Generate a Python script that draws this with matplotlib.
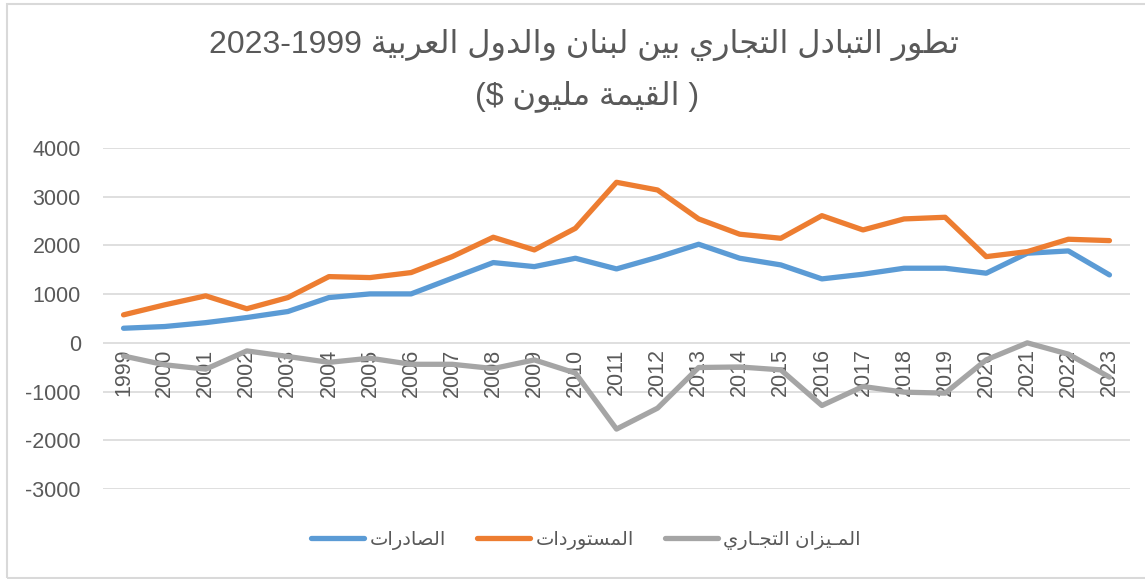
import re
import matplotlib
matplotlib.use("Agg")
import matplotlib.pyplot as plt
from matplotlib.patches import Rectangle

plt.rcParams["font.family"] = ["Liberation Sans", "DejaVu Sans"]

################################################################################
# Data (million $)                                                             #
################################################################################
years = list(range(1999, 2024))
exports = [300, 335, 415, 520, 643, 930, 1005, 1005, 1327, 1648, 1565, 1737, 1518,
           1757, 2024, 1737, 1600, 1313, 1409, 1532, 1532, 1430, 1840, 1887, 1395]
imports = [575, 780, 965, 700, 930, 1360, 1340, 1443, 1770, 2168, 1908, 2352, 3296,
           3138, 2544, 2230, 2147, 2611, 2318, 2544, 2578, 1770, 1873, 2127, 2099]
balance = [-270, -450, -540, -165, -280, -400, -315, -440, -440, -527, -350, -620, -1770,
           -1340, -506, -495, -554, -1286, -896, -1012, -1032, -349, 0, -232, -704]
y_ticks = [-3000, -2000, -1000, 0, 1000, 2000, 3000, 4000]

title_ar = "تطور التبادل التجاري بين لبنان والدول العربية 2023-1999"
subtitle_ar = "( القيمة مليون $)"
series_names = ["الصادرات", "المستوردات", "المـيزان التجـاري"]
colors = ["#5B9BD5", "#ED7D31", "#A5A5A5"]

################################################################################
# Minimal Arabic shaping (matplotlib has no text shaping / bidi)               #
################################################################################
# letter: (isolated, final, initial, medial)
FORMS = {
    "ا": ("\uFE8D", "\uFE8E", None, None),
    "ب": ("\uFE8F", "\uFE90", "\uFE91", "\uFE92"),
    "ة": ("\uFE93", "\uFE94", None, None),
    "ت": ("\uFE95", "\uFE96", "\uFE97", "\uFE98"),
    "ج": ("\uFE9D", "\uFE9E", "\uFE9F", "\uFEA0"),
    "د": ("\uFEA9", "\uFEAA", None, None),
    "ر": ("\uFEAD", "\uFEAE", None, None),
    "ز": ("\uFEAF", "\uFEB0", None, None),
    "س": ("\uFEB1", "\uFEB2", "\uFEB3", "\uFEB4"),
    "ص": ("\uFEB9", "\uFEBA", "\uFEBB", "\uFEBC"),
    "ط": ("\uFEC1", "\uFEC2", "\uFEC3", "\uFEC4"),
    "ع": ("\uFEC9", "\uFECA", "\uFECB", "\uFECC"),
    "ق": ("\uFED5", "\uFED6", "\uFED7", "\uFED8"),
    "ل": ("\uFEDD", "\uFEDE", "\uFEDF", "\uFEE0"),
    "م": ("\uFEE1", "\uFEE2", "\uFEE3", "\uFEE4"),
    "ن": ("\uFEE5", "\uFEE6", "\uFEE7", "\uFEE8"),
    "و": ("\uFEED", "\uFEEE", None, None),
    "ي": ("\uFEF1", "\uFEF2", "\uFEF3", "\uFEF4"),
}
TATWEEL = "ـ"


def joins(c):
    return c == TATWEEL or c in FORMS


def dual(c):
    return c == TATWEEL or (c in FORMS and FORMS[c][2] is not None)


def shape(s):
    out = []
    for i, c in enumerate(s):
        if c not in FORMS:
            out.append(c)
            continue
        prev = s[i - 1] if i > 0 else ""
        nxt = s[i + 1] if i < len(s) - 1 else ""
        jp = bool(prev) and dual(prev)
        jn = bool(nxt) and dual(c) and joins(nxt)
        f = FORMS[c]
        if jp and jn:
            out.append(f[3])
        elif jp:
            out.append(f[1])
        elif jn:
            out.append(f[2])
        else:
            out.append(f[0])
    return "".join(out)


def rtl(s):
    rev = shape(s)[::-1]
    rev = rev.translate(str.maketrans("()", ")("))
    return re.sub(r"[0-9\-]+", lambda m: m.group()[::-1], rev)


################################################################################
# Plot                                                                         #
################################################################################
fig = plt.figure(figsize=(11.45, 5.79), dpi=100)
ax = fig.add_axes([103 / 1145, 1 - 489 / 579, (1130 - 103) / 1145, (489 - 148) / 579])

x = list(range(len(years)))
for vals, name, col in zip([exports, imports, balance], series_names, colors):
    ax.plot(x, vals, color=col, lw=3.8, solid_capstyle="round", zorder=3, label=rtl(name))

ax.set_xlim(-0.5, len(years) - 0.5)
ax.set_ylim(-3000, 4000)
ax.set_yticks(y_ticks)
ax.set_yticklabels([str(v) for v in y_ticks])
ax.set_xticks([])
ax.tick_params(axis="y", length=0, pad=16, labelsize=15.5, labelcolor="#595959")
ax.grid(axis="y", color="#D9D9D9", lw=1.2)
ax.set_axisbelow(True)
for s in ax.spines.values():
    s.set_visible(False)

for i, yr in enumerate(years):
    ax.annotate(str(yr), (i, 0), xytext=(0, -4), textcoords="offset points",
                rotation=90, ha="center", va="top", fontsize=15.5, color="#595959", zorder=1.5)

fig.text(0.51, 1 - 45 / 579, rtl(title_ar), ha="center", va="center", fontsize=23, color="#595959")
fig.text(0.513, 1 - 96 / 579, rtl(subtitle_ar), ha="center", va="center", fontsize=23, color="#595959")

leg = fig.legend(loc="center", bbox_to_anchor=(0.512, 1 - 540 / 579), ncol=3, frameon=False,
                 fontsize=14, handlelength=2.7, columnspacing=1.6, handletextpad=0.3)
for t in leg.get_texts():
    t.set_color("#595959")

fig.patches.append(Rectangle((7 / 1145, 1 / 579), 1.1, 1 - 5 / 579, transform=fig.transFigure,
                             fill=False, edgecolor="#D9D9D9", lw=1.5))

fig.savefig("out.png", dpi=100)
